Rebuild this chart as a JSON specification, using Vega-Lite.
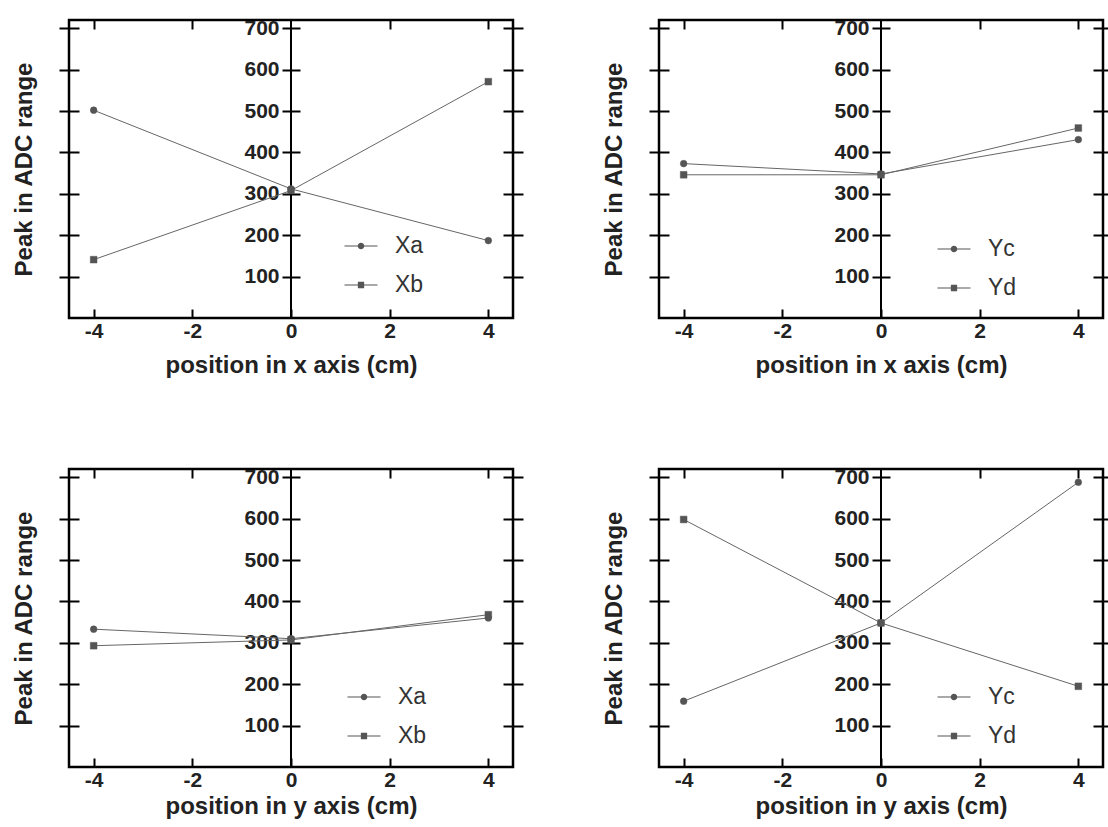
{
  "$schema": "https://vega.github.io/schema/vega-lite/v6.json",
  "padding": {"left": 10, "top": 16, "right": 0, "bottom": 0},
  "background": "white",
  "config": {
    "view": {"stroke": "black", "strokeWidth": 2.5},
    "axis": {"grid": false, "tickColor": "black", "labelFont": "Liberation Sans", "titleFont": "Liberation Sans", "labelColor": "#222", "titleColor": "#222"},
    "legend": {"labelFont": "Liberation Sans"}
  },
  "datasets": {
    "d": [
      {"panel": 1, "series": "Xa", "pos": -4, "peak": 502},
      {"panel": 1, "series": "Xa", "pos": 0, "peak": 312},
      {"panel": 1, "series": "Xa", "pos": 4, "peak": 187},
      {"panel": 1, "series": "Xb", "pos": -4, "peak": 141},
      {"panel": 1, "series": "Xb", "pos": 0, "peak": 308},
      {"panel": 1, "series": "Xb", "pos": 4, "peak": 571},
      {"panel": 2, "series": "Yc", "pos": -4, "peak": 373},
      {"panel": 2, "series": "Yc", "pos": 0, "peak": 348},
      {"panel": 2, "series": "Yc", "pos": 4, "peak": 431},
      {"panel": 2, "series": "Yd", "pos": -4, "peak": 346},
      {"panel": 2, "series": "Yd", "pos": 0, "peak": 346},
      {"panel": 2, "series": "Yd", "pos": 4, "peak": 459},
      {"panel": 3, "series": "Xa", "pos": -4, "peak": 333},
      {"panel": 3, "series": "Xa", "pos": 0, "peak": 310},
      {"panel": 3, "series": "Xa", "pos": 4, "peak": 360},
      {"panel": 3, "series": "Xb", "pos": -4, "peak": 293},
      {"panel": 3, "series": "Xb", "pos": 0, "peak": 307},
      {"panel": 3, "series": "Xb", "pos": 4, "peak": 368},
      {"panel": 4, "series": "Yc", "pos": -4, "peak": 159},
      {"panel": 4, "series": "Yc", "pos": 0, "peak": 348},
      {"panel": 4, "series": "Yc", "pos": 4, "peak": 688},
      {"panel": 4, "series": "Yd", "pos": -4, "peak": 598},
      {"panel": 4, "series": "Yd", "pos": 0, "peak": 348},
      {"panel": 4, "series": "Yd", "pos": 4, "peak": 195}
    ]
  },
  "columns": 2,
  "bounds": "flush",
  "spacing": {"row": 151, "column": 146},
  "concat": [
    {
      "width": 444, "height": 298,
      "data": {"name": "d"},
      "transform": [{"filter": "datum.panel == 1"}],
      "layer": [
        {"mark": {"type": "rule", "stroke": "black", "strokeWidth": 2},
         "encoding": {"x": {"datum": 0, "type": "quantitative", "scale": {"domain": [-4.5, 4.5], "nice": false, "zero": false}, "axis": null}}},
        {"mark": {"type": "line", "stroke": "#666", "strokeWidth": 1},
         "encoding": {
           "x": {"field": "pos", "type": "quantitative", "scale": {"domain": [-4.5, 4.5], "nice": false, "zero": false},
                 "axis": {"orient": "bottom", "offset": -9, "tickSize": 9, "tickWidth": 2, "domain": false, "values": [-4, -2, 0, 2, 4], "labelExpr": "'' + datum.value", "labelPadding": 2, "labelFontSize": 21, "labelFontWeight": "bold", "labelFlush": false, "title": "position in x axis (cm)", "titleFontSize": 24, "titleFontWeight": "bold", "titlePadding": 12}},
           "y": {"field": "peak", "type": "quantitative", "scale": {"domain": [0, 720], "nice": false},
                 "axis": {"orient": "left", "offset": -10, "tickSize": 20, "tickWidth": 2, "domain": false, "labels": false, "values": [100, 200, 300, 400, 500, 600, 700], "title": "Peak in ADC range", "titleFontSize": 24, "titleFontWeight": "bold", "titlePadding": 22}},
           "detail": {"field": "series"}}},
        {"mark": {"type": "point", "filled": true, "fill": "#555", "stroke": "#555", "strokeWidth": 0.5, "size": 45, "opacity": 1},
         "encoding": {
           "x": {"field": "pos", "type": "quantitative", "scale": {"domain": [-4.5, 4.5], "nice": false, "zero": false},
                 "axis": {"orient": "top", "offset": -9, "tickSize": 9, "tickWidth": 2, "domain": false, "labels": false, "values": [-4, -2, 2, 4], "title": null}},
           "y": {"field": "peak", "type": "quantitative", "scale": {"domain": [0, 720], "nice": false},
                 "axis": {"orient": "right", "offset": -10, "tickSize": 20, "tickWidth": 2, "domain": false, "labels": false, "values": [100, 200, 300, 400, 500, 600, 700], "title": null}},
           "shape": {"field": "series", "type": "nominal", "scale": {"domain": ["Xa", "Xb"], "range": ["circle", "square"]}, "legend": null}}},
        {"transform": [{"filter": "datum.pos > 100"}],
         "mark": {"type": "point", "filled": true, "fill": "#555", "stroke": "#555", "strokeWidth": 1, "size": 1089, "opacity": 1},
         "encoding": {
           "x": {"field": "pos", "type": "quantitative", "scale": {"domain": [-4.5, 4.5], "nice": false, "zero": false}, "axis": null},
           "y": {"field": "peak", "type": "quantitative", "scale": {"domain": [0, 720], "nice": false},
                 "axis": {"orient": "left", "offset": -231, "tickSize": 18, "tickWidth": 2, "domain": false, "values": [100, 200, 300, 400, 500, 600, 700], "labelPadding": 3, "labelFontSize": 21, "labelFontWeight": "bold", "title": null}},
           "shape": {"field": "series", "type": "nominal",
                     "scale": {"domain": ["Xa", "Xb"], "range": ["M-1,-0.035H1V0.035H-1ZM0.2,0A0.2,0.2 0 1,1 -0.2,0A0.2,0.2 0 1,1 0.2,0Z", "M-1,-0.035H1V0.035H-1ZM-0.19,-0.19H0.19V0.19H-0.19Z"]},
                     "legend": {"orient": "none", "legendX": 275, "legendY": 209, "title": null, "padding": 0, "symbolSize": 1089, "symbolStrokeWidth": 1, "symbolFillColor": "#555", "symbolStrokeColor": "#555", "labelFontSize": 23, "labelColor": "#333", "labelOffset": 17, "rowPadding": 10}}}}
      ],
      "resolve": {"scale": {"shape": "independent"}, "axis": {"x": "independent", "y": "independent"}}
    },
    {
      "width": 444, "height": 298,
      "data": {"name": "d"},
      "transform": [{"filter": "datum.panel == 2"}],
      "layer": [
        {"mark": {"type": "rule", "stroke": "black", "strokeWidth": 2},
         "encoding": {"x": {"datum": 0, "type": "quantitative", "scale": {"domain": [-4.5, 4.5], "nice": false, "zero": false}, "axis": null}}},
        {"mark": {"type": "line", "stroke": "#666", "strokeWidth": 1},
         "encoding": {
           "x": {"field": "pos", "type": "quantitative", "scale": {"domain": [-4.5, 4.5], "nice": false, "zero": false},
                 "axis": {"orient": "bottom", "offset": -9, "tickSize": 9, "tickWidth": 2, "domain": false, "values": [-4, -2, 0, 2, 4], "labelExpr": "'' + datum.value", "labelPadding": 2, "labelFontSize": 21, "labelFontWeight": "bold", "labelFlush": false, "title": "position in x axis (cm)", "titleFontSize": 24, "titleFontWeight": "bold", "titlePadding": 12}},
           "y": {"field": "peak", "type": "quantitative", "scale": {"domain": [0, 720], "nice": false},
                 "axis": {"orient": "left", "offset": -10, "tickSize": 20, "tickWidth": 2, "domain": false, "labels": false, "values": [100, 200, 300, 400, 500, 600, 700], "title": "Peak in ADC range", "titleFontSize": 24, "titleFontWeight": "bold", "titlePadding": 22}},
           "detail": {"field": "series"}}},
        {"mark": {"type": "point", "filled": true, "fill": "#555", "stroke": "#555", "strokeWidth": 0.5, "size": 45, "opacity": 1},
         "encoding": {
           "x": {"field": "pos", "type": "quantitative", "scale": {"domain": [-4.5, 4.5], "nice": false, "zero": false},
                 "axis": {"orient": "top", "offset": -9, "tickSize": 9, "tickWidth": 2, "domain": false, "labels": false, "values": [-4, -2, 2, 4], "title": null}},
           "y": {"field": "peak", "type": "quantitative", "scale": {"domain": [0, 720], "nice": false},
                 "axis": {"orient": "right", "offset": -10, "tickSize": 20, "tickWidth": 2, "domain": false, "labels": false, "values": [100, 200, 300, 400, 500, 600, 700], "title": null}},
           "shape": {"field": "series", "type": "nominal", "scale": {"domain": ["Yc", "Yd"], "range": ["circle", "square"]}, "legend": null}}},
        {"transform": [{"filter": "datum.pos > 100"}],
         "mark": {"type": "point", "filled": true, "fill": "#555", "stroke": "#555", "strokeWidth": 1, "size": 1089, "opacity": 1},
         "encoding": {
           "x": {"field": "pos", "type": "quantitative", "scale": {"domain": [-4.5, 4.5], "nice": false, "zero": false}, "axis": null},
           "y": {"field": "peak", "type": "quantitative", "scale": {"domain": [0, 720], "nice": false},
                 "axis": {"orient": "left", "offset": -231, "tickSize": 18, "tickWidth": 2, "domain": false, "values": [100, 200, 300, 400, 500, 600, 700], "labelPadding": 3, "labelFontSize": 21, "labelFontWeight": "bold", "title": null}},
           "shape": {"field": "series", "type": "nominal",
                     "scale": {"domain": ["Yc", "Yd"], "range": ["M-1,-0.035H1V0.035H-1ZM0.2,0A0.2,0.2 0 1,1 -0.2,0A0.2,0.2 0 1,1 0.2,0Z", "M-1,-0.035H1V0.035H-1ZM-0.19,-0.19H0.19V0.19H-0.19Z"]},
                     "legend": {"orient": "none", "legendX": 278, "legendY": 212, "title": null, "padding": 0, "symbolSize": 1089, "symbolStrokeWidth": 1, "symbolFillColor": "#555", "symbolStrokeColor": "#555", "labelFontSize": 23, "labelColor": "#333", "labelOffset": 17, "rowPadding": 10}}}}
      ],
      "resolve": {"scale": {"shape": "independent"}, "axis": {"x": "independent", "y": "independent"}}
    },
    {
      "width": 444, "height": 298,
      "data": {"name": "d"},
      "transform": [{"filter": "datum.panel == 3"}],
      "layer": [
        {"mark": {"type": "rule", "stroke": "black", "strokeWidth": 2},
         "encoding": {"x": {"datum": 0, "type": "quantitative", "scale": {"domain": [-4.5, 4.5], "nice": false, "zero": false}, "axis": null}}},
        {"mark": {"type": "line", "stroke": "#666", "strokeWidth": 1},
         "encoding": {
           "x": {"field": "pos", "type": "quantitative", "scale": {"domain": [-4.5, 4.5], "nice": false, "zero": false},
                 "axis": {"orient": "bottom", "offset": -9, "tickSize": 9, "tickWidth": 2, "domain": false, "values": [-4, -2, 0, 2, 4], "labelExpr": "'' + datum.value", "labelPadding": 2, "labelFontSize": 21, "labelFontWeight": "bold", "labelFlush": false, "title": "position in y axis (cm)", "titleFontSize": 24, "titleFontWeight": "bold", "titlePadding": 4}},
           "y": {"field": "peak", "type": "quantitative", "scale": {"domain": [0, 720], "nice": false},
                 "axis": {"orient": "left", "offset": -10, "tickSize": 20, "tickWidth": 2, "domain": false, "labels": false, "values": [100, 200, 300, 400, 500, 600, 700], "title": "Peak in ADC range", "titleFontSize": 24, "titleFontWeight": "bold", "titlePadding": 22}},
           "detail": {"field": "series"}}},
        {"mark": {"type": "point", "filled": true, "fill": "#555", "stroke": "#555", "strokeWidth": 0.5, "size": 45, "opacity": 1},
         "encoding": {
           "x": {"field": "pos", "type": "quantitative", "scale": {"domain": [-4.5, 4.5], "nice": false, "zero": false},
                 "axis": {"orient": "top", "offset": -9, "tickSize": 9, "tickWidth": 2, "domain": false, "labels": false, "values": [-4, -2, 2, 4], "title": null}},
           "y": {"field": "peak", "type": "quantitative", "scale": {"domain": [0, 720], "nice": false},
                 "axis": {"orient": "right", "offset": -10, "tickSize": 20, "tickWidth": 2, "domain": false, "labels": false, "values": [100, 200, 300, 400, 500, 600, 700], "title": null}},
           "shape": {"field": "series", "type": "nominal", "scale": {"domain": ["Xa", "Xb"], "range": ["circle", "square"]}, "legend": null}}},
        {"transform": [{"filter": "datum.pos > 100"}],
         "mark": {"type": "point", "filled": true, "fill": "#555", "stroke": "#555", "strokeWidth": 1, "size": 1089, "opacity": 1},
         "encoding": {
           "x": {"field": "pos", "type": "quantitative", "scale": {"domain": [-4.5, 4.5], "nice": false, "zero": false}, "axis": null},
           "y": {"field": "peak", "type": "quantitative", "scale": {"domain": [0, 720], "nice": false},
                 "axis": {"orient": "left", "offset": -231, "tickSize": 18, "tickWidth": 2, "domain": false, "values": [100, 200, 300, 400, 500, 600, 700], "labelPadding": 3, "labelFontSize": 21, "labelFontWeight": "bold", "title": null}},
           "shape": {"field": "series", "type": "nominal",
                     "scale": {"domain": ["Xa", "Xb"], "range": ["M-1,-0.035H1V0.035H-1ZM0.2,0A0.2,0.2 0 1,1 -0.2,0A0.2,0.2 0 1,1 0.2,0Z", "M-1,-0.035H1V0.035H-1ZM-0.19,-0.19H0.19V0.19H-0.19Z"]},
                     "legend": {"orient": "none", "legendX": 278, "legendY": 211, "title": null, "padding": 0, "symbolSize": 1089, "symbolStrokeWidth": 1, "symbolFillColor": "#555", "symbolStrokeColor": "#555", "labelFontSize": 23, "labelColor": "#333", "labelOffset": 17, "rowPadding": 10}}}}
      ],
      "resolve": {"scale": {"shape": "independent"}, "axis": {"x": "independent", "y": "independent"}}
    },
    {
      "width": 444, "height": 298,
      "data": {"name": "d"},
      "transform": [{"filter": "datum.panel == 4"}],
      "layer": [
        {"mark": {"type": "rule", "stroke": "black", "strokeWidth": 2},
         "encoding": {"x": {"datum": 0, "type": "quantitative", "scale": {"domain": [-4.5, 4.5], "nice": false, "zero": false}, "axis": null}}},
        {"mark": {"type": "line", "stroke": "#666", "strokeWidth": 1},
         "encoding": {
           "x": {"field": "pos", "type": "quantitative", "scale": {"domain": [-4.5, 4.5], "nice": false, "zero": false},
                 "axis": {"orient": "bottom", "offset": -9, "tickSize": 9, "tickWidth": 2, "domain": false, "values": [-4, -2, 0, 2, 4], "labelExpr": "'' + datum.value", "labelPadding": 2, "labelFontSize": 21, "labelFontWeight": "bold", "labelFlush": false, "title": "position in y axis (cm)", "titleFontSize": 24, "titleFontWeight": "bold", "titlePadding": 4}},
           "y": {"field": "peak", "type": "quantitative", "scale": {"domain": [0, 720], "nice": false},
                 "axis": {"orient": "left", "offset": -10, "tickSize": 20, "tickWidth": 2, "domain": false, "labels": false, "values": [100, 200, 300, 400, 500, 600, 700], "title": "Peak in ADC range", "titleFontSize": 24, "titleFontWeight": "bold", "titlePadding": 22}},
           "detail": {"field": "series"}}},
        {"mark": {"type": "point", "filled": true, "fill": "#555", "stroke": "#555", "strokeWidth": 0.5, "size": 45, "opacity": 1},
         "encoding": {
           "x": {"field": "pos", "type": "quantitative", "scale": {"domain": [-4.5, 4.5], "nice": false, "zero": false},
                 "axis": {"orient": "top", "offset": -9, "tickSize": 9, "tickWidth": 2, "domain": false, "labels": false, "values": [-4, -2, 2, 4], "title": null}},
           "y": {"field": "peak", "type": "quantitative", "scale": {"domain": [0, 720], "nice": false},
                 "axis": {"orient": "right", "offset": -10, "tickSize": 20, "tickWidth": 2, "domain": false, "labels": false, "values": [100, 200, 300, 400, 500, 600, 700], "title": null}},
           "shape": {"field": "series", "type": "nominal", "scale": {"domain": ["Yc", "Yd"], "range": ["circle", "square"]}, "legend": null}}},
        {"transform": [{"filter": "datum.pos > 100"}],
         "mark": {"type": "point", "filled": true, "fill": "#555", "stroke": "#555", "strokeWidth": 1, "size": 1089, "opacity": 1},
         "encoding": {
           "x": {"field": "pos", "type": "quantitative", "scale": {"domain": [-4.5, 4.5], "nice": false, "zero": false}, "axis": null},
           "y": {"field": "peak", "type": "quantitative", "scale": {"domain": [0, 720], "nice": false},
                 "axis": {"orient": "left", "offset": -231, "tickSize": 18, "tickWidth": 2, "domain": false, "values": [100, 200, 300, 400, 500, 600, 700], "labelPadding": 3, "labelFontSize": 21, "labelFontWeight": "bold", "title": null}},
           "shape": {"field": "series", "type": "nominal",
                     "scale": {"domain": ["Yc", "Yd"], "range": ["M-1,-0.035H1V0.035H-1ZM0.2,0A0.2,0.2 0 1,1 -0.2,0A0.2,0.2 0 1,1 0.2,0Z", "M-1,-0.035H1V0.035H-1ZM-0.19,-0.19H0.19V0.19H-0.19Z"]},
                     "legend": {"orient": "none", "legendX": 278, "legendY": 211, "title": null, "padding": 0, "symbolSize": 1089, "symbolStrokeWidth": 1, "symbolFillColor": "#555", "symbolStrokeColor": "#555", "labelFontSize": 23, "labelColor": "#333", "labelOffset": 17, "rowPadding": 10}}}}
      ],
      "resolve": {"scale": {"shape": "independent"}, "axis": {"x": "independent", "y": "independent"}}
    }
  ]
}
